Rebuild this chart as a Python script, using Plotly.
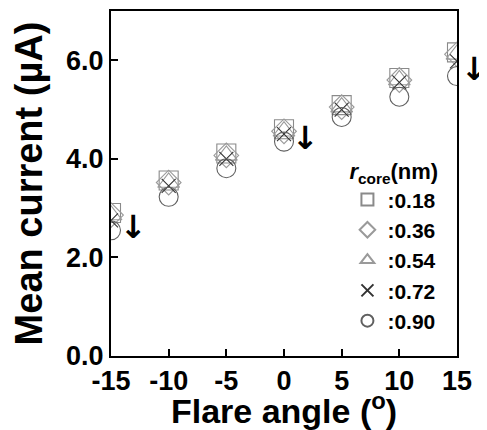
import plotly.graph_objects as go

angles = [-15, -10, -5, 0, 5, 10, 15]
r_018 = [2.90, 3.56, 4.11, 4.60, 5.09, 5.64, 6.16]
r_036 = [2.86, 3.52, 4.07, 4.56, 5.05, 5.60, 6.12]
r_054 = [2.86, 3.52, 4.07, 4.56, 5.05, 5.60, 6.12]
r_072 = [2.75, 3.45, 4.00, 4.50, 5.00, 5.55, 5.98]
r_090 = [2.55, 3.23, 3.81, 4.35, 4.85, 5.26, 5.68]
series_names = [":0.18", ":0.36", ":0.54", ":0.72", ":0.90"]
series_values = [r_018, r_036, r_054, r_072, r_090]
symbols = ["square-open", "diamond-open", "triangle-up-open", "x-thin-open", "circle-open"]
sizes = [19, 19, 19, 14, 19]
colors = ["#8a8a8a", "#9a9a9a", "#9a9a9a", "#333333", "#606060"]

FONT = "Liberation Sans, Arial, sans-serif"

fig = go.Figure()
for name, vals, sym, sz, col in zip(series_names, series_values, symbols, sizes, colors):
    fig.add_trace(go.Scatter(
        x=angles, y=vals, mode="markers", name=name,
        marker=dict(symbol=sym, size=sz, color=col, line=dict(color=col, width=1.1)),
    ))

# down arrows (annotation glyphs); x in paper fraction of the plot width
for px, ax_y in [(0.064, 2.62), (0.563, 4.42), (1.052, 5.82)]:
    fig.add_annotation(x=px, y=ax_y, xref="paper", yref="y", showarrow=False,
                       xanchor="center", yanchor="middle",
                       text="<b>\u2193</b>", font=dict(size=32, family="DejaVu Sans", color="black"))

# page body has an 8px margin: figure is 479x422 so it fits the 487x430 window
fig.update_layout(
    width=479, height=422,
    margin=dict(l=103, r=30, t=3, b=74),
    paper_bgcolor="white", plot_bgcolor="white",
    font=dict(family=FONT, color="black"),
    showlegend=True,
    legend=dict(
        title=dict(text="<b><i>r</i><sub>core</sub>(nm)</b>", font=dict(size=22, family=FONT)),
        font=dict(size=21, family=FONT, color="black", weight="bold"),
        x=0.955, y=0.595, xanchor="right", yanchor="top",
        bgcolor="rgba(0,0,0,0)", itemsizing="constant", tracegroupgap=0,
    ),
    xaxis=dict(
        range=[-15, 15], tickvals=angles, ticktext=["<b>%d</b>" % a for a in angles],
        ticks="inside", ticklen=7, tickwidth=2, tickcolor="black",
        showline=True, linewidth=2, linecolor="black", mirror=True,
        showgrid=False, zeroline=False, automargin=False,
        tickfont=dict(size=27, family=FONT),
        title=dict(text="<b>Flare angle (<sup>o</sup>)</b>", font=dict(size=34, family=FONT)),
    ),
    yaxis=dict(
        range=[0, 7], tickvals=[0, 2, 4, 6], ticktext=["<b>0.0</b>", "<b>2.0</b>", "<b>4.0</b>", "<b>6.0</b>"],
        ticks="inside", ticklen=7, tickwidth=2, tickcolor="black",
        showline=True, linewidth=2, linecolor="black", mirror=True,
        showgrid=False, zeroline=False, automargin=False,
        tickfont=dict(size=27, family=FONT),
        title=dict(text="<b>Mean current (\u00b5A)</b>", font=dict(size=38, family=FONT)),
    ),
)

fig.write_html("out.html")
